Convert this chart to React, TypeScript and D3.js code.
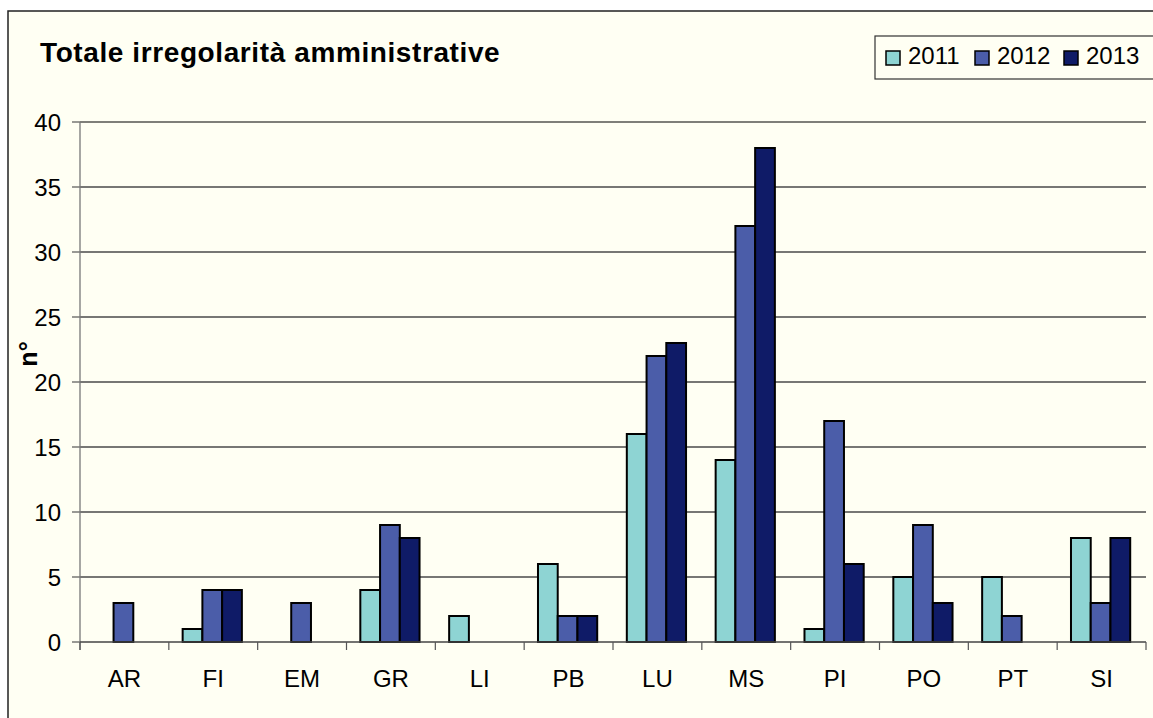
import React from "react";
import * as d3 from "d3";

const categories = ["AR", "FI", "EM", "GR", "LI", "PB", "LU", "MS", "PI", "PO", "PT", "SI"];
const years = ["2011", "2012", "2013"];
const values2011 = [0, 1, 0, 4, 2, 6, 16, 14, 1, 5, 5, 8];
const values2012 = [3, 4, 3, 9, 0, 2, 22, 32, 17, 9, 2, 3];
const values2013 = [0, 4, 0, 8, 0, 2, 23, 38, 6, 3, 0, 8];
const yTicks = [0, 5, 10, 15, 20, 25, 30, 35, 40];
const colors = ["#8ED4D3", "#4B5DA9", "#0F1B67"];

const W = 1153;
const H = 718;
const plot = { left: 80, right: 1146, top: 122, bottom: 642 };

export default function App() {
  const series = [values2011, values2012, values2013];

  const x = d3.scaleBand().domain(categories).range([plot.left, plot.right]);
  const bw = x.bandwidth() / 4.5;
  const x1 = d3
    .scaleBand()
    .domain(years)
    .range([bw * 0.7, bw * 3.7]);
  const y = d3.scaleLinear().domain([0, 40]).range([plot.bottom, plot.top]);

  const font = "'Liberation Sans', Arial, sans-serif";

  return (
    <svg
      width={W}
      height={H}
      style={{ position: "absolute", left: 0, top: 0 }}
      fontFamily={font}
    >
      <rect x={0} y={0} width={W} height={H} fill="#ffffff" />
      <rect x={8} y={11} width={W + 20} height={H + 20} fill="#FFFFF3" stroke="#222" strokeWidth={1.5} />

      <text x={40} y={62} fontSize={28} fontWeight="bold" letterSpacing={0.6} fill="#000">
        Totale irregolarità amministrative
      </text>

      {/* legend */}
      <rect x={875} y={36} width={W} height={43} fill="#FFFFF3" stroke="#333" strokeWidth={1.2} />
      {years.map((yr, i) => {
        const lx = [886, 975, 1064][i];
        return (
          <g key={yr}>
            <rect x={lx} y={51} width={14} height={14} fill={colors[i]} stroke="#000" strokeWidth={1.5} />
            <text x={lx + 22} y={64} fontSize={24} fill="#000">
              {yr}
            </text>
          </g>
        );
      })}

      {/* gridlines */}
      {yTicks.map((t) => (
        <g key={t}>
          {t > 0 && (
            <line
              x1={plot.left}
              x2={plot.right}
              y1={y(t)}
              y2={y(t)}
              stroke={t === 40 ? "#000" : "#4a4a4a"}
              strokeWidth={t === 40 ? 1.2 : 1.4}
            />
          )}
          <line x1={plot.left - 8} x2={plot.left} y1={y(t)} y2={y(t)} stroke="#555" strokeWidth={1.2} />
          <text x={61} y={y(t) + 8.5} fontSize={24} textAnchor="end" fill="#000">
            {t}
          </text>
        </g>
      ))}

      {/* y axis */}
      <line x1={plot.left} x2={plot.left} y1={plot.top} y2={plot.bottom + 8} stroke="#777" strokeWidth={1.3} />

      <text
        transform={`translate(37,354) rotate(-90)`}
        fontSize={25}
        fontWeight="bold"
        textAnchor="middle"
        fill="#000"
      >
        n°
      </text>

      {/* bars */}
      {categories.map((c, ci) => (
        <g key={c} transform={`translate(${x(c)},0)`}>
          {series.map((s, si) =>
            s[ci] > 0 ? (
              <rect
                key={si}
                x={x1(years[si])}
                y={y(s[ci])}
                width={x1.bandwidth()}
                height={y(0) - y(s[ci])}
                fill={colors[si]}
                stroke="#000"
                strokeWidth={2}
              />
            ) : null
          )}
        </g>
      ))}

      {/* x axis */}
      <line x1={plot.left} x2={plot.right} y1={plot.bottom} y2={plot.bottom} stroke="#444" strokeWidth={1.3} />
      {categories.map((c) => (
        <line key={c} x1={x(c)} x2={x(c)} y1={plot.bottom} y2={plot.bottom + 8} stroke="#555" strokeWidth={1.2} />
      ))}
      <line x1={plot.right} x2={plot.right} y1={plot.bottom} y2={plot.bottom + 8} stroke="#555" strokeWidth={1.2} />
      {categories.map((c) => (
        <text key={c} x={x(c)! + x.bandwidth() / 2} y={687} fontSize={24} textAnchor="middle" fill="#000">
          {c}
        </text>
      ))}
    </svg>
  );
}
